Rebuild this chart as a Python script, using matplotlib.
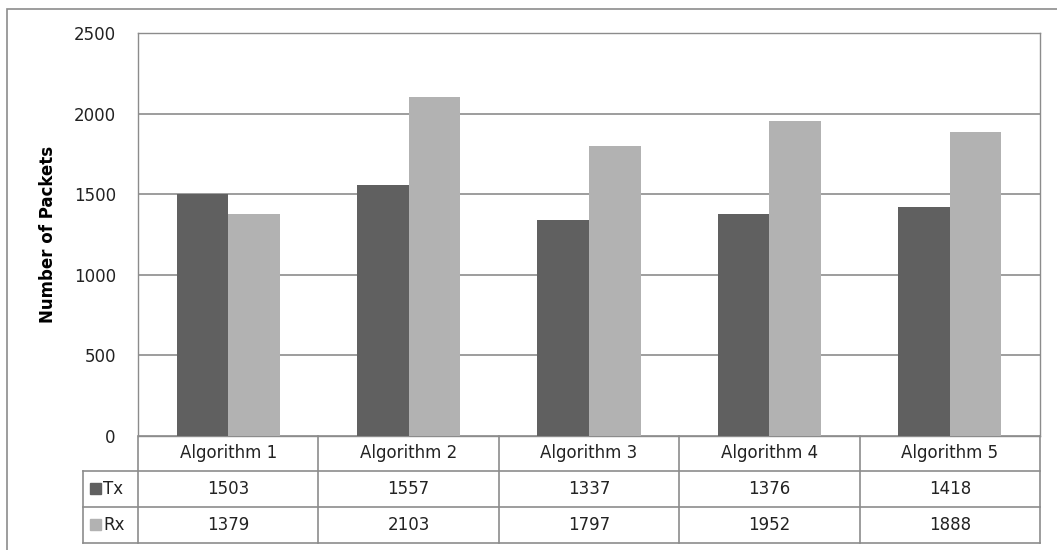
import matplotlib
matplotlib.use("Agg")
import matplotlib.pyplot as plt
import matplotlib.patches as patches
import numpy as np

plt.rcParams["font.family"] = "DejaVu Sans"

categories = ["Algorithm 1", "Algorithm 2", "Algorithm 3", "Algorithm 4", "Algorithm 5"]
series_names = ["Tx", "Rx"]
tx = [1503, 1557, 1337, 1376, 1418]
rx = [1379, 2103, 1797, 1952, 1888]
yticks = [0, 500, 1000, 1500, 2000, 2500]

colors = ["#606060", "#b2b2b2"]
grid_c = "#8c8c8c"
line_c = "#8c8c8c"
txt_c = "#222222"
fs = 12

W, H = 1057, 550
fig = plt.figure(figsize=(W / 100, H / 100), dpi=100)

# plot area in pixels (left, top, right, bottom)
pl, pt, pr, pb = 138, 33, 1040, 436
ax = fig.add_axes([pl / W, 1 - pb / H, (pr - pl) / W, (pb - pt) / H])

x = np.arange(len(categories))
bw = 1 / 3.5  # 150% gap width
ax.bar(x - bw / 2, tx, bw, color=colors[0], zorder=3)
ax.bar(x + bw / 2, rx, bw, color=colors[1], zorder=3)

ax.set_xlim(-0.5, len(categories) - 0.5)
ax.set_ylim(0, 2500)
ax.set_yticks(yticks)
ax.set_yticklabels([str(v) for v in yticks], fontsize=fs, color=txt_c)
ax.tick_params(axis="y", length=0, pad=16)
ax.set_xticks([])
ax.yaxis.grid(True, color=grid_c, lw=1.2, zorder=0)
for s in ax.spines.values():
    s.set_color(line_c)
    s.set_linewidth(1)
ax.set_ylabel("Number of Packets", fontsize=fs, fontweight="bold", labelpad=12)

# data table under the plot, drawn in pixel coordinates
def fx(px):
    return px / W

def fy(py):
    return 1 - py / H

rows = [436, 471, 507, 543]
col_w = (pr - pl) / len(categories)
cols = [pl + i * col_w for i in range(len(categories) + 1)]
leg_l = 83

def hline(y, x0, x1):
    fig.add_artist(plt.Line2D([fx(x0), fx(x1)], [fy(y), fy(y)], color=line_c, lw=1.2))

def vline(xp, y0, y1):
    fig.add_artist(plt.Line2D([fx(xp), fx(xp)], [fy(y0), fy(y1)], color=line_c, lw=1.2))

hline(rows[1], leg_l, pr)
hline(rows[2], leg_l, pr)
hline(rows[3], leg_l, pr)
for c in cols:
    vline(c, rows[0], rows[3])
vline(leg_l, rows[1], rows[3])

for i, cat in enumerate(categories):
    cx = (cols[i] + cols[i + 1]) / 2
    fig.text(fx(cx), fy((rows[0] + rows[1]) / 2), cat, ha="center", va="center", fontsize=fs, color=txt_c)
    fig.text(fx(cx), fy((rows[1] + rows[2]) / 2), str(tx[i]), ha="center", va="center", fontsize=fs, color=txt_c)
    fig.text(fx(cx), fy((rows[2] + rows[3]) / 2), str(rx[i]), ha="center", va="center", fontsize=fs, color=txt_c)

for r, (name, col) in enumerate(zip(series_names, colors)):
    ymid = (rows[r + 1] + rows[r + 2]) / 2
    fig.add_artist(patches.Rectangle((fx(90), fy(ymid + 5)), fx(11), 11 / H,
                                     color=col, transform=fig.transFigure))
    fig.text(fx(103), fy(ymid), name, ha="left", va="center", fontsize=fs, color=txt_c)

# outer chart border
fig.add_artist(patches.Rectangle((fx(7), fy(560)), fx(1060), 551 / H, fill=False,
                                 edgecolor="#8c8c8c", lw=1.2, transform=fig.transFigure))

fig.savefig("out.png", dpi=100)
